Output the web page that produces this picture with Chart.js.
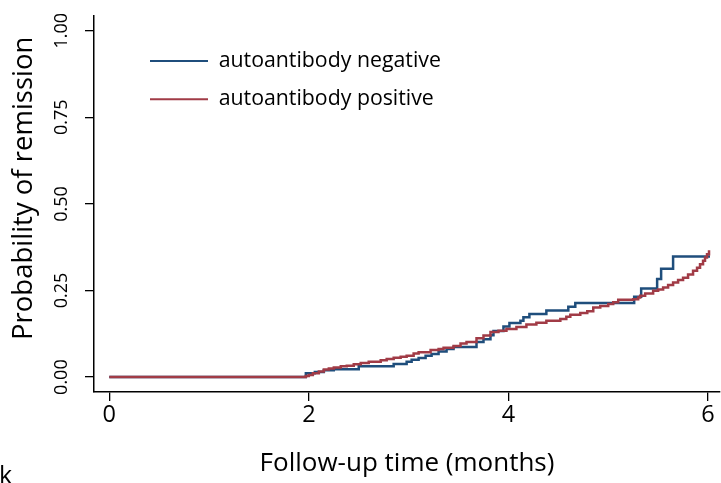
<!DOCTYPE html>
<html><head><meta charset="utf-8">
<script src="https://cdn.jsdelivr.net/npm/chart.js@4.4.0/dist/chart.umd.min.js"></script>
<style>html,body{margin:0;padding:0;background:#fff;} canvas{display:block}</style>
</head><body><canvas id="c" width="721" height="483"></canvas>
<script>
// ---- data ----
const seriesLabels = ['autoantibody negative', 'autoantibody positive'];
const negTimes = [0, 1.97, 2.06, 2.15, 2.25, 2.50, 2.85, 2.98, 3.03, 3.10, 3.17, 3.23, 3.30, 3.38, 3.45, 3.68, 3.75, 3.82, 3.85, 3.95, 4.01, 4.12, 4.15, 4.21, 4.38, 4.60, 4.67, 5.26, 5.33, 5.49, 5.53, 5.65, 6.02];
const negProb  = [0, 0.011, 0.015, 0.020, 0.023, 0.031, 0.038, 0.044, 0.050, 0.055, 0.062, 0.067, 0.074, 0.081, 0.087, 0.101, 0.109, 0.121, 0.133, 0.146, 0.156, 0.163, 0.173, 0.182, 0.192, 0.203, 0.214, 0.232, 0.256, 0.283, 0.313, 0.348, 0.348];
const posTimes = [0, 1.97, 2.00, 2.04, 2.10, 2.15, 2.20, 2.25, 2.32, 2.38, 2.45, 2.52, 2.60, 2.72, 2.78, 2.85, 2.92, 2.98, 3.05, 3.10, 3.22, 3.30, 3.35, 3.45, 3.52, 3.58, 3.68, 3.75, 3.82, 3.90, 3.98, 4.08, 4.18, 4.28, 4.38, 4.52, 4.58, 4.62, 4.72, 4.79, 4.85, 4.92, 5.00, 5.05, 5.10, 5.25, 5.30, 5.32, 5.37, 5.45, 5.50, 5.55, 5.60, 5.65, 5.70, 5.75, 5.80, 5.85, 5.89, 5.92, 5.95, 5.97, 5.99, 6.01];
const posProb  = [0, 0.003, 0.006, 0.011, 0.016, 0.022, 0.025, 0.028, 0.031, 0.033, 0.037, 0.041, 0.044, 0.049, 0.052, 0.056, 0.059, 0.062, 0.068, 0.072, 0.078, 0.081, 0.085, 0.090, 0.097, 0.101, 0.112, 0.120, 0.130, 0.134, 0.139, 0.145, 0.152, 0.157, 0.163, 0.168, 0.174, 0.180, 0.185, 0.190, 0.201, 0.205, 0.211, 0.216, 0.223, 0.225, 0.230, 0.235, 0.241, 0.249, 0.253, 0.259, 0.266, 0.273, 0.280, 0.287, 0.296, 0.307, 0.316, 0.326, 0.336, 0.345, 0.355, 0.366];
const xTickValues = [0, 2, 4, 6];
const yTickValues = [0, 0.25, 0.50, 0.75, 1.00];
const xTitle = 'Follow-up time (months)';
const yTitle = 'Probability of remission';
const panelLabel = 'k';

const FONT = '"Open Sans", "Noto Sans", sans-serif';
const BLUE = '#1f4e7c';
const RED = '#a13b46';

function toPoints(xs, ys) { return xs.map((x, i) => ({ x: x, y: ys[i] })); }

const extraPlugin = {
  id: 'extraText',
  afterLayout(chart) {
    const lg = chart.legend, a = chart.chartArea;
    if (lg) { lg.left = a.left + 39; lg.top = a.top + 17.5; }
  },
  afterDraw(chart) {
    const ctx = chart.ctx, a = chart.chartArea;
    ctx.save();
    ctx.fillStyle = '#000';
    ctx.font = '27.5px ' + FONT;
    ctx.textAlign = 'center';
    ctx.textBaseline = 'alphabetic';
    ctx.translate(a.left - 62.3, a.top + 172.5);
    ctx.rotate(-Math.PI / 2);
    ctx.fillText(yTitle, 0, 0);
    ctx.restore();
    ctx.save();
    ctx.fillStyle = '#000';
    ctx.font = '25px ' + FONT;
    ctx.textAlign = 'left';
    ctx.textBaseline = 'alphabetic';
    ctx.fillText(panelLabel, -1, 484);
    ctx.restore();
  }
};

new Chart(document.getElementById('c'), {
  type: 'line',
  data: {
    datasets: [
      { label: seriesLabels[0], data: toPoints(negTimes, negProb), borderColor: BLUE, backgroundColor: BLUE,
        borderWidth: 2.5, pointRadius: 0, stepped: 'before', fill: false, order: 1 },
      { label: seriesLabels[1], data: toPoints(posTimes, posProb), borderColor: RED, backgroundColor: RED,
        borderWidth: 2.5, pointRadius: 0, stepped: 'before', fill: false, order: 0 }
    ]
  },
  options: {
    responsive: false,
    animation: false,
    devicePixelRatio: 1,
    layout: { padding: { top: 13, right: 1, left: 0, bottom: 0 } },
    plugins: {
      tooltip: { enabled: false },
      legend: {
        position: 'chartArea',
        align: 'start',
        labels: {
          sort: (a, b) => a.datasetIndex - b.datasetIndex,
          color: '#000',
          font: { family: FONT, size: 21.3 },
          boxWidth: 58,
          boxHeight: 2,
          padding: 17,
          generateLabels: (chart) => Chart.defaults.plugins.legend.labels.generateLabels(chart).map(l => Object.assign(l, { lineWidth: 0 }))
        }
      }
    },
    scales: {
      x: {
        type: 'linear',
        min: -0.153, max: 6.12,
        afterBuildTicks: (s) => { s.ticks = xTickValues.map(v => ({ value: v })); },
        afterFit: (s) => { s.height = 91; },
        ticks: { color: '#000', font: { family: FONT, size: 23.5 }, padding: 0, maxRotation: 0, minRotation: 0,
                 callback: (v) => String(v) },
        grid: { display: true, drawOnChartArea: false, drawTicks: true, tickLength: 9, color: '#000', lineWidth: 1.3 },
        border: { display: true, color: '#000', width: 1.5 },
        title: { display: true, text: xTitle, color: '#000', font: { family: FONT, size: 26 }, padding: { top: 0, bottom: 4 } }
      },
      y: {
        type: 'linear',
        min: -0.043, max: 1.043,
        afterBuildTicks: (s) => { s.ticks = yTickValues.map(v => ({ value: v })); },
        afterFit: (s) => { s.width = 94; },
        ticks: { color: '#000', font: { family: FONT, size: 18 }, padding: 5, minRotation: 90, maxRotation: 90,
                 crossAlign: 'center', callback: (v) => Number(v).toFixed(2) },
        grid: { display: true, drawOnChartArea: false, drawTicks: true, tickLength: 9, color: '#000', lineWidth: 1.3 },
        border: { display: true, color: '#000', width: 1.5 },
        title: { display: false }
      }
    }
  },
  plugins: [extraPlugin]
});
</script>
</body></html>
